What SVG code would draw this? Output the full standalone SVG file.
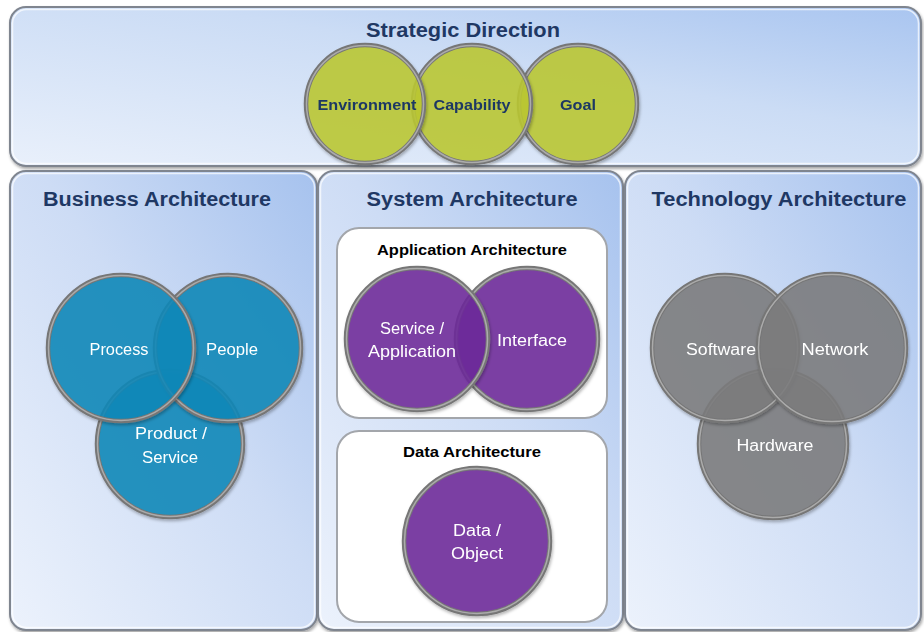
<svg xmlns="http://www.w3.org/2000/svg" width="924" height="632" viewBox="0 0 924 632">
<defs>
<linearGradient id="panelGrad" x1="0" y1="1" x2="1" y2="0">
<stop offset="0" stop-color="#ecf2fc"/>
<stop offset="0.55" stop-color="#cddcf5"/>
<stop offset="1" stop-color="#a6c2ee"/>
</linearGradient>
<linearGradient id="topGrad" x1="0" y1="1" x2="1" y2="0">
<stop offset="0" stop-color="#e9f0fb"/>
<stop offset="0.6" stop-color="#cbdcf5"/>
<stop offset="1" stop-color="#a9c5f0"/>
</linearGradient>
<filter id="shadow" x="-10%" y="-10%" width="120%" height="120%">
<feDropShadow dx="1" dy="2" stdDeviation="1.5" flood-color="#000" flood-opacity="0.35"/>
</filter>
<filter id="cshadow" x="-10%" y="-10%" width="125%" height="125%">
<feDropShadow dx="1" dy="2" stdDeviation="1.5" flood-color="#000" flood-opacity="0.28"/>
</filter>
</defs>
<style>
.panel{stroke:#7f858f;stroke-width:2;filter:url(#shadow)}
.hl{fill:none;stroke:#ffffff;stroke-opacity:0.7;stroke-width:1.5}
.inner{fill:#ffffff;stroke:#a3a6ab;stroke-width:2}
.ring{fill:none;stroke:#767676;stroke-width:4.5}
.ring2{fill:none;stroke:#ababab;stroke-width:1.5}
.green{fill:#bdc932;fill-opacity:0.86}
.blue{fill:#0889ba;fill-opacity:0.86}
.purple{fill:#6d299b;fill-opacity:0.86}
.gray{fill:#7d7d7f;fill-opacity:0.86}
.title{font-family:"Liberation Sans",Arial,sans-serif;font-weight:bold;fill:#1f3864;text-anchor:middle}
.sub{font-family:"Liberation Sans",Arial,sans-serif;font-weight:bold;fill:#000000;text-anchor:middle;font-size:15px}
.glab{font-family:"Liberation Sans",Arial,sans-serif;font-weight:bold;fill:#1f3864;text-anchor:middle;font-size:15px}
.wlab{font-family:"Liberation Sans",Arial,sans-serif;fill:#ffffff;text-anchor:middle;font-size:16px}
</style>
<rect width="924" height="632" fill="#ffffff"/>

<g id="strategic-direction">
<rect class="panel" x="10" y="7" width="911" height="159" rx="16" fill="url(#topGrad)"/>
<rect class="hl" x="12.5" y="9.5" width="906" height="154" rx="14"/>
<text class="title" x="463" y="37" font-size="20" textLength="194" lengthAdjust="spacingAndGlyphs">Strategic Direction</text>
</g>

<g id="business-architecture">
<rect class="panel" x="10" y="171" width="307" height="459" rx="16" fill="url(#panelGrad)"/>
<rect class="hl" x="12.5" y="173.5" width="302" height="454" rx="14"/>
<text class="title" x="157" y="206" font-size="20" textLength="228" lengthAdjust="spacingAndGlyphs">Business Architecture</text>
</g>

<g id="system-architecture">
<rect class="panel" x="318" y="171" width="305" height="459" rx="16" fill="url(#panelGrad)"/>
<rect class="hl" x="320.5" y="173.5" width="300" height="454" rx="14"/>
<text class="title" x="472" y="206" font-size="20" textLength="211" lengthAdjust="spacingAndGlyphs">System Architecture</text>
</g>

<g id="technology-architecture">
<rect class="panel" x="625" y="171" width="296" height="459" rx="16" fill="url(#panelGrad)"/>
<rect class="hl" x="627.5" y="173.5" width="291" height="454" rx="14"/>
<text class="title" x="779" y="206" font-size="20" textLength="255" lengthAdjust="spacingAndGlyphs">Technology Architecture</text>
</g>

<g id="application-architecture">
<rect class="inner" x="337" y="228" width="270" height="190" rx="22"/>
<text class="sub" x="472" y="255" textLength="190" lengthAdjust="spacingAndGlyphs">Application Architecture</text>
</g>

<g id="data-architecture">
<rect class="inner" x="337" y="431" width="270" height="191" rx="22"/>
<text class="sub" x="472" y="457" textLength="138" lengthAdjust="spacingAndGlyphs">Data Architecture</text>
</g>

<!-- Strategic circles: back to front -->
<g id="goal" filter="url(#cshadow)">
<circle class="green" cx="578" cy="104" r="59"/>
<circle class="ring" cx="578" cy="104" r="59"/>
<circle class="ring2" cx="578" cy="104" r="58.5"/>
<text class="glab" x="578" y="109.5" textLength="36" lengthAdjust="spacingAndGlyphs">Goal</text>
</g>
<g id="capability" filter="url(#cshadow)">
<circle class="green" cx="472" cy="104" r="59"/>
<circle class="ring" cx="472" cy="104" r="59"/>
<circle class="ring2" cx="472" cy="104" r="58.5"/>
<text class="glab" x="472" y="109.5" textLength="77" lengthAdjust="spacingAndGlyphs">Capability</text>
</g>
<g id="environment" filter="url(#cshadow)">
<circle class="green" cx="365" cy="104" r="59"/>
<circle class="ring" cx="365" cy="104" r="59"/>
<circle class="ring2" cx="365" cy="104" r="58.5"/>
<text class="glab" x="367" y="109.5" textLength="99" lengthAdjust="spacingAndGlyphs">Environment</text>
</g>

<!-- Business circles -->
<g id="product-service" filter="url(#cshadow)">
<circle class="blue" cx="170" cy="444" r="73"/>
<circle class="ring" cx="170" cy="444" r="73"/>
<circle class="ring2" cx="170" cy="444" r="72.5"/>
<text class="wlab" x="171" y="439" textLength="72" lengthAdjust="spacingAndGlyphs">Product /</text>
<text class="wlab" x="170" y="463" textLength="56" lengthAdjust="spacingAndGlyphs">Service</text>
</g>
<g id="people" filter="url(#cshadow)">
<circle class="blue" cx="228" cy="348" r="73"/>
<circle class="ring" cx="228" cy="348" r="73"/>
<circle class="ring2" cx="228" cy="348" r="72.5"/>
<text class="wlab" x="232" y="355" textLength="52" lengthAdjust="spacingAndGlyphs">People</text>
</g>
<g id="process" filter="url(#cshadow)">
<circle class="blue" cx="121" cy="348" r="73"/>
<circle class="ring" cx="121" cy="348" r="73"/>
<circle class="ring2" cx="121" cy="348" r="72.5"/>
<text class="wlab" x="119" y="355" textLength="59" lengthAdjust="spacingAndGlyphs">Process</text>
</g>

<!-- System circles -->
<g id="interface" filter="url(#cshadow)">
<circle class="purple" cx="527" cy="339" r="71"/>
<circle class="ring" cx="527" cy="339" r="71"/>
<circle class="ring2" cx="527" cy="339" r="70.5"/>
<text class="wlab" x="532" y="346" textLength="70" lengthAdjust="spacingAndGlyphs">Interface</text>
</g>
<g id="service-application" filter="url(#cshadow)">
<circle class="purple" cx="417" cy="339" r="71"/>
<circle class="ring" cx="417" cy="339" r="71"/>
<circle class="ring2" cx="417" cy="339" r="70.5"/>
<text class="wlab" x="412" y="334" textLength="64" lengthAdjust="spacingAndGlyphs">Service /</text>
<text class="wlab" x="412" y="357" textLength="88" lengthAdjust="spacingAndGlyphs">Application</text>
</g>
<g id="data-object" filter="url(#cshadow)">
<circle class="purple" cx="477" cy="541" r="73"/>
<circle class="ring" cx="477" cy="541" r="73"/>
<circle class="ring2" cx="477" cy="541" r="72.5"/>
<text class="wlab" x="477" y="536" textLength="48" lengthAdjust="spacingAndGlyphs">Data /</text>
<text class="wlab" x="477" y="559" textLength="52" lengthAdjust="spacingAndGlyphs">Object</text>
</g>

<!-- Technology circles -->
<g id="hardware" filter="url(#cshadow)">
<circle class="gray" cx="773" cy="444" r="74"/>
<circle class="ring" cx="773" cy="444" r="74"/>
<circle class="ring2" cx="773" cy="444" r="73.5"/>
<text class="wlab" x="775" y="451" textLength="77" lengthAdjust="spacingAndGlyphs">Hardware</text>
</g>
<g id="software" filter="url(#cshadow)">
<circle class="gray" cx="725" cy="348" r="73"/>
<circle class="ring" cx="725" cy="348" r="73"/>
<circle class="ring2" cx="725" cy="348" r="72.5"/>
<text class="wlab" x="721" y="355" textLength="70" lengthAdjust="spacingAndGlyphs">Software</text>
</g>
<g id="network" filter="url(#cshadow)">
<circle class="gray" cx="832" cy="348" r="74"/>
<circle class="ring" cx="832" cy="348" r="74"/>
<circle class="ring2" cx="832" cy="348" r="73.5"/>
<text class="wlab" x="835" y="355" textLength="67" lengthAdjust="spacingAndGlyphs">Network</text>
</g>

<g id="connectors"/>
</svg>
